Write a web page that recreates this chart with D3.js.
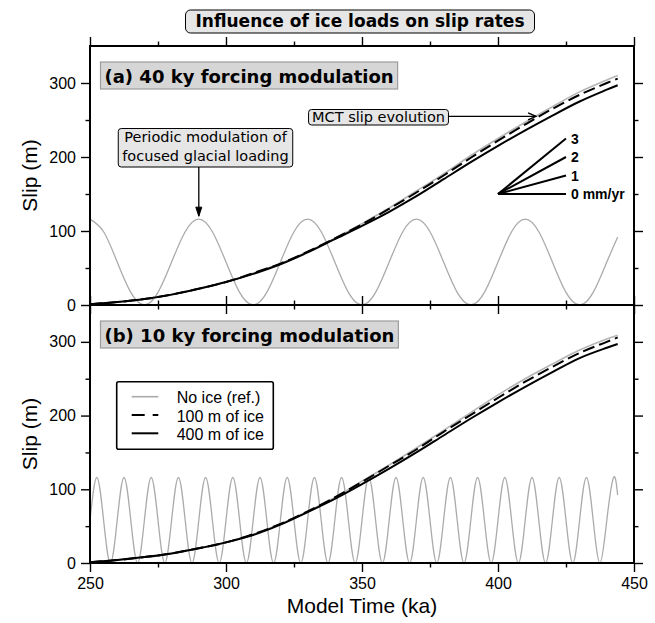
<!DOCTYPE html>
<html>
<head>
<meta charset="utf-8">
<script src="https://cdn.jsdelivr.net/npm/d3@7"></script>
<style>
	body { margin: 0; background: #fff; }
	svg { display: block; }
</style>
</head>
<body>
<script>

// slip curves (ka, m)
var slipTimes = [250, 260, 270, 280, 290, 300, 310, 320, 330, 340, 350, 360, 370, 380, 390, 400, 410, 420, 430, 440, 444];

var slipNoIceA = [1, 4, 8, 14, 22, 31, 43, 56, 72, 90, 110, 131, 154, 177, 202, 225, 247, 268, 288, 304, 310];
var slip100A   = [1, 4, 8, 14, 22, 31, 43, 56, 72, 90, 109, 130, 152, 175, 199, 222, 244, 265, 284, 300, 306];
var slip400A   = [1, 4, 8, 14, 22, 31, 42, 55, 71, 89, 107, 126, 147, 170, 193, 215, 236, 256, 275, 291, 297];

var slipNoIceB = [1, 4, 8, 13, 20, 28, 39, 53, 70, 89, 111, 133, 156, 180, 204, 228, 250, 270, 289, 304, 309];
var slip100B   = [1, 4, 8, 13, 20, 28, 39, 53, 70, 89, 110, 132, 154, 178, 201, 224, 246, 266, 285, 300, 306];
var slip400B   = [1, 4, 8, 13, 20, 28, 38, 52, 69, 87, 107, 128, 150, 173, 196, 218, 239, 259, 278, 292, 297];

// ice load modulation (grey), 40 ky period
var loadTimesA = [250, 255, 260, 265, 270, 275, 280, 285,
	290, 295, 300, 305, 310, 315, 320, 325,
	330, 335, 340, 345, 350, 355, 360, 365,
	370, 375, 380, 385, 390, 395, 400, 405,
	410, 415, 420, 425, 430, 435, 440, 444];
var loadA = [116, 99, 58, 17, 0, 17, 58, 99,
	116, 99, 58, 17, 0, 17, 58, 99,
	116, 99, 58, 17, 0, 17, 58, 99,
	116, 99, 58, 17, 0, 17, 58, 99,
	116, 99, 58, 17, 0, 17, 58, 92];

// ice load modulation (grey), 10 ky period
var loadTimesB = [250, 252.5, 255, 257.5, 260, 262.5, 265, 267.5,
	270, 272.5, 275, 277.5, 280, 282.5, 285, 287.5,
	290, 292.5, 295, 297.5, 300, 302.5, 305, 307.5,
	310, 312.5, 315, 317.5, 320, 322.5, 325, 327.5,
	330, 332.5, 335, 337.5, 340, 342.5, 345, 347.5,
	350, 352.5, 355, 357.5, 360, 362.5, 365, 367.5,
	370, 372.5, 375, 377.5, 380, 382.5, 385, 387.5,
	390, 392.5, 395, 397.5, 400, 402.5, 405, 407.5,
	410, 412.5, 415, 417.5, 420, 422.5, 425, 427.5,
	430, 432.5, 435, 437.5, 440, 442.5, 444];
var loadB = [58, 116, 58, 0, 58, 116, 58, 0,
	58, 116, 58, 0, 58, 116, 58, 0,
	58, 116, 58, 0, 58, 116, 58, 0,
	58, 116, 58, 0, 58, 116, 58, 0,
	58, 116, 58, 0, 58, 116, 58, 0,
	58, 116, 58, 0, 58, 116, 58, 0,
	58, 116, 58, 0, 58, 116, 58, 0,
	58, 116, 58, 0, 58, 116, 58, 0,
	58, 116, 58, 0, 58, 116, 58, 0,
	58, 116, 58, 0, 58, 116, 92];

var xMajor = [250, 300, 350, 400, 450],
	xMinor = [275, 325, 375, 425],
	yMajor = [0, 100, 200, 300],
	yMinor = [50, 150, 250];

var rates = [3, 2, 1, 0];
var rateLabels = ['3', '2', '1', '0 mm/yr'];

var legendNames = ['No ice (ref.)', '100 m of ice', '400 m of ice'];

var SANS = '"Liberation Sans", Arial, Helvetica, sans-serif';
var DEJAVU = '"DejaVu Sans", sans-serif';
var GREY = '#ababab';

var svg = d3.select('body').append('svg')
	.attr('width', 655)
	.attr('height', 623);

var x = d3.scaleLinear().domain([250, 450]).range([90, 634]);

var panels = [
	{ id: 'a', top: 46, bottom: 305, label: '(a) 40 ky forcing modulation',
		loadT: loadTimesA, load: loadA, noIce: slipNoIceA, ice100: slip100A, ice400: slip400A },
	{ id: 'b', top: 305, bottom: 563, label: '(b) 10 ky forcing modulation',
		loadT: loadTimesB, load: loadB, noIce: slipNoIceB, ice100: slip100B, ice400: slip400B }
];

function pairs(ts, vs) {
	return ts.map(function(t, i) { return [t, vs[i]]; });
}

function styleAxis(g) {
	g.select('.domain').remove();
	g.selectAll('.tick line').attr('stroke', '#000').attr('stroke-width', 1.4);
	g.selectAll('.tick text')
		.attr('fill', '#000')
		.style('font-family', SANS)
		.style('font-size', '16px');
}

function drawPanel(p, isLast) {
	var y = d3.scaleLinear().domain([0, 350]).range([p.bottom, p.top]);
	p.y = y;

	var g = svg.append('g');

	g.append('clipPath').attr('id', 'clip-' + p.id)
		.append('rect')
			.attr('x', 90).attr('y', p.top)
			.attr('width', 544).attr('height', p.bottom - p.top);

	var plot = g.append('g').attr('clip-path', 'url(#clip-' + p.id + ')');

	var line = d3.line()
		.x(function(d) { return x(d[0]); })
		.y(function(d) { return y(d[1]); });

	plot.append('path')
		.attr('d', line.curve(d3.curveNatural)(pairs(p.loadT, p.load)))
		.attr('fill', 'none')
		.attr('stroke', GREY)
		.attr('stroke-width', 1.3);

	line.curve(d3.curveCatmullRom.alpha(0.5));

	plot.append('path')
		.attr('d', line(pairs(slipTimes, p.noIce)))
		.attr('fill', 'none')
		.attr('stroke', '#b5b5b5')
		.attr('stroke-width', 1.6);

	plot.append('path')
		.attr('d', line(pairs(slipTimes, p.ice100)))
		.attr('fill', 'none')
		.attr('stroke', '#000')
		.attr('stroke-width', 2)
		.attr('stroke-dasharray', '12,5');

	plot.append('path')
		.attr('d', line(pairs(slipTimes, p.ice400)))
		.attr('fill', 'none')
		.attr('stroke', '#000')
		.attr('stroke-width', 2);

	// axes, ticks outward on all four sides
	g.append('g').attr('transform', 'translate(90,0)')
		.call(d3.axisLeft(y).tickValues(yMajor).tickSize(9).tickPadding(5)).call(styleAxis);
	g.append('g').attr('transform', 'translate(90,0)')
		.call(d3.axisLeft(y).tickValues(yMinor).tickSize(4.5).tickFormat('')).call(styleAxis);
	g.append('g').attr('transform', 'translate(634,0)')
		.call(d3.axisRight(y).tickValues(yMajor).tickSize(9).tickFormat('')).call(styleAxis);
	g.append('g').attr('transform', 'translate(634,0)')
		.call(d3.axisRight(y).tickValues(yMinor).tickSize(4.5).tickFormat('')).call(styleAxis);

	g.append('g').attr('transform', 'translate(0,' + p.top + ')')
		.call(d3.axisTop(x).tickValues(xMajor).tickSize(9).tickFormat('')).call(styleAxis);
	g.append('g').attr('transform', 'translate(0,' + p.top + ')')
		.call(d3.axisTop(x).tickValues(xMinor).tickSize(4.5).tickFormat('')).call(styleAxis);

	var bottomAxis = d3.axisBottom(x).tickValues(xMajor).tickSize(9).tickPadding(6);
	if (!isLast) bottomAxis.tickFormat('');
	g.append('g').attr('transform', 'translate(0,' + p.bottom + ')')
		.call(bottomAxis).call(styleAxis);
	g.append('g').attr('transform', 'translate(0,' + p.bottom + ')')
		.call(d3.axisBottom(x).tickValues(xMinor).tickSize(4.5).tickFormat('')).call(styleAxis);

	g.append('rect')
		.attr('x', 90).attr('y', p.top)
		.attr('width', 544).attr('height', p.bottom - p.top)
		.attr('fill', 'none')
		.attr('stroke', '#000')
		.attr('stroke-width', 2);

	// y label
	g.append('text')
		.attr('transform', 'translate(37,' + ((p.top + p.bottom) / 2) + ') rotate(-90)')
		.attr('text-anchor', 'middle')
		.style('font-family', SANS)
		.style('font-size', '21px')
		.text('Slip (m)');

	// panel title box
	var lab = g.append('g');
	var labText = lab.append('text')
		.attr('x', 104.5)
		.attr('y', p.top + 36.5)
		.style('font-family', DEJAVU)
		.style('font-weight', 'bold')
		.style('font-size', '18px')
		.text(p.label);
	var w = labText.node().getComputedTextLength();
	lab.insert('rect', 'text')
		.attr('x', 100.5).attr('y', p.top + 16)
		.attr('width', w + 8).attr('height', 27)
		.attr('fill', '#d6d6d6')
		.attr('stroke', '#9c9c9c')
		.attr('stroke-width', 1.2);
}

panels.forEach(function(p, i) { drawPanel(p, i === panels.length - 1); });

var yA = panels[0].y;

// rate scale
var rateG = svg.append('g');
rates.forEach(function(r, i) {
	rateG.append('line')
		.attr('x1', x(400)).attr('y1', yA(150))
		.attr('x2', x(425)).attr('y2', yA(150 + r * 25))
		.attr('stroke', '#000')
		.attr('stroke-width', 2);
	rateG.append('text')
		.attr('x', x(425) + 5)
		.attr('y', yA(150 + r * 25))
		.attr('dy', '0.36em')
		.style('font-family', SANS)
		.style('font-weight', 'bold')
		.style('font-size', '14px')
		.text(rateLabels[i]);
});

// annotation boxes
function noteBox(parent, lines, cx, baseline, lineGap, padX, padTop, padBottom) {
	var gg = parent.append('g');
	var texts = lines.map(function(s, i) {
		return gg.append('text')
			.attr('x', cx)
			.attr('y', baseline + i * lineGap)
			.attr('text-anchor', 'middle')
			.style('font-family', DEJAVU)
			.style('font-size', '14.5px')
			.text(s);
	});
	var w = d3.max(texts, function(t) { return t.node().getComputedTextLength(); });
	var top = baseline - 11 - padTop,
		bot = baseline + (lines.length - 1) * lineGap + 3.5 + padBottom;
	gg.insert('rect', 'text')
		.attr('x', cx - w / 2 - padX).attr('y', top)
		.attr('width', w + 2 * padX).attr('height', bot - top)
		.attr('rx', 3)
		.attr('fill', '#e6e6e6')
		.attr('stroke', '#000')
		.attr('stroke-width', 1);
	return { left: cx - w / 2 - padX, right: cx + w / 2 + padX, top: top, bottom: bot };
}

var ann = svg.append('g');

var mct = noteBox(ann, ['MCT slip evolution'], 378.5, 121.5, 0, 3.5, 1, 0);
var tipX = x(414), tipY = yA(257);
ann.append('line')
	.attr('x1', mct.right).attr('y1', tipY + 1.5)
	.attr('x2', tipX).attr('y2', tipY + 1.5)
	.attr('stroke', '#000').attr('stroke-width', 1.3);
ann.append('path')
	.attr('d', 'M' + (tipX - 8) + ',' + (tipY - 2) + 'L' + tipX + ',' + (tipY + 1.5) + 'L' + (tipX - 8) + ',' + (tipY + 5))
	.attr('fill', 'none').attr('stroke', '#000').attr('stroke-width', 1.3);

var per = noteBox(ann, ['Periodic modulation of', 'focused glacial loading'], 205.5, 142, 18.5, 4, 2.5, 3);
var px = x(290), py = yA(116) - 3;
ann.append('line')
	.attr('x1', px).attr('y1', per.bottom)
	.attr('x2', px).attr('y2', py)
	.attr('stroke', '#000').attr('stroke-width', 1.3);
ann.append('path')
	.attr('d', 'M' + (px - 3) + ',' + (py - 9) + 'L' + px + ',' + py + 'L' + (px + 3) + ',' + (py - 9) + 'Z')
	.attr('fill', '#000').attr('stroke', '#000').attr('stroke-width', 1);

// legend
var leg = svg.append('g');
leg.append('rect')
	.attr('x', 116.7).attr('y', 381.7)
	.attr('width', 156.6).attr('height', 67.6)
	.attr('rx', 2)
	.attr('fill', '#fff')
	.attr('stroke', '#000')
	.attr('stroke-width', 1.6);

var legStyles = [
	{ stroke: GREY, width: 1.6, dash: null },
	{ stroke: '#000', width: 2, dash: '13,8' },
	{ stroke: '#000', width: 2, dash: null }
];
legendNames.forEach(function(name, i) {
	var ly = 396.7 + i * 18.3;
	leg.append('line')
		.attr('x1', 131.7).attr('x2', 158.3)
		.attr('y1', ly).attr('y2', ly)
		.attr('stroke', legStyles[i].stroke)
		.attr('stroke-width', legStyles[i].width)
		.attr('stroke-dasharray', legStyles[i].dash);
	leg.append('text')
		.attr('x', 176.7)
		.attr('y', ly + 6.5)
		.style('font-family', SANS)
		.style('font-size', '16px')
		.text(name);
});

// x label
svg.append('text')
	.attr('x', 362)
	.attr('y', 613)
	.attr('text-anchor', 'middle')
	.style('font-family', SANS)
	.style('font-size', '21px')
	.text('Model Time (ka)');

// main title
var titleG = svg.append('g');
var title = titleG.append('text')
	.attr('x', 360)
	.attr('y', 27)
	.attr('text-anchor', 'middle')
	.style('font-family', DEJAVU)
	.style('font-weight', 'bold')
	.style('font-size', '17px')
	.text('Influence of ice loads on slip rates');
var tw = title.node().getComputedTextLength();
titleG.insert('rect', 'text')
	.attr('x', 360 - tw / 2 - 10).attr('y', 10)
	.attr('width', tw + 20).attr('height', 23)
	.attr('rx', 5)
	.attr('fill', '#e6e6e6')
	.attr('stroke', '#000')
	.attr('stroke-width', 1);

</script>
</body>
</html>
